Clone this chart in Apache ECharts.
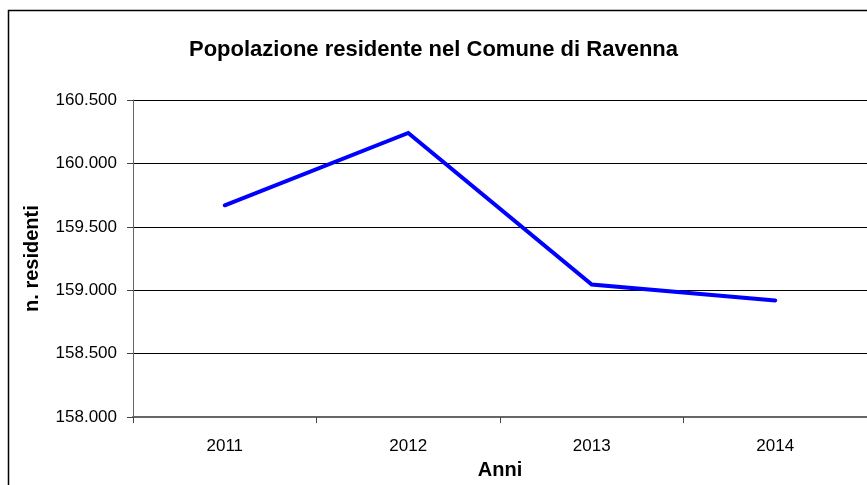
<!DOCTYPE html>
<html><head><meta charset="utf-8">
<script src="https://cdn.jsdelivr.net/npm/echarts@6/dist/echarts.min.js"></script>
<style>html,body{margin:0;padding:0;background:#fff}#c{width:867px;height:485px}</style>
</head><body><div id="c"></div>
<script>
const categories = ['2011', '2012', '2013', '2014'];
const residents = [159670, 160240, 159045, 158920];
const yMin = 158000, yMax = 160500, yStep = 500;

function fmt(v){ return String(v).replace(/\B(?=(\d{3})+(?!\d))/g, '.'); }

const chart = echarts.init(document.getElementById('c'), null, {renderer:'canvas'});
chart.setOption({
  animation:false,
  backgroundColor:'#fff',
  textStyle:{fontFamily:'Liberation Sans, Arial, sans-serif'},
  title:{
    text:'Popolazione residente nel Comune di Ravenna',
    left:'center', top:34,
    textStyle:{fontSize:22, fontWeight:'bold', color:'#000', fontFamily:'Liberation Sans, Arial, sans-serif'}
  },
  graphic:[{type:'rect', shape:{x:8.5, y:10.5, width:900, height:500}, style:{fill:null, stroke:'#000', lineWidth:1.5}, silent:true, z:-1}],
  grid:{left:133, right:-2, top:100, bottom:67, containLabel:false},
  xAxis:{
    type:'category', data:categories, boundaryGap:true,
    name:'Anni', nameLocation:'middle', nameGap:40,
    nameTextStyle:{fontSize:20, fontWeight:'bold', color:'#000'},
    axisLine:{lineStyle:{color:'#666', width:2}},
    axisTick:{show:true, length:6, alignWithLabel:false, lineStyle:{color:'#444'}},
    axisLabel:{fontSize:17, color:'#000', margin:21},
    splitLine:{show:false}
  },
  yAxis:{
    type:'value', min:yMin, max:yMax, interval:yStep,
    name:'n. residenti', nameLocation:'middle', nameGap:91, nameRotate:90,
    nameTextStyle:{fontSize:20, fontWeight:'bold', color:'#000'},
    axisLine:{show:true, lineStyle:{color:'#666', width:1}},
    axisTick:{show:true, length:6, lineStyle:{color:'#444'}},
    axisLabel:{fontSize:17, color:'#000', margin:16, formatter:fmt},
    splitLine:{show:true, lineStyle:{color:'#000', width:1}}
  },
  series:[{
    type:'line', data:residents, showSymbol:false, symbol:'none',
    lineStyle:{color:'#0000ff', width:4, cap:'round', join:'miter'},
    itemStyle:{color:'#0000ff'}
  }]
});
</script></body></html>
